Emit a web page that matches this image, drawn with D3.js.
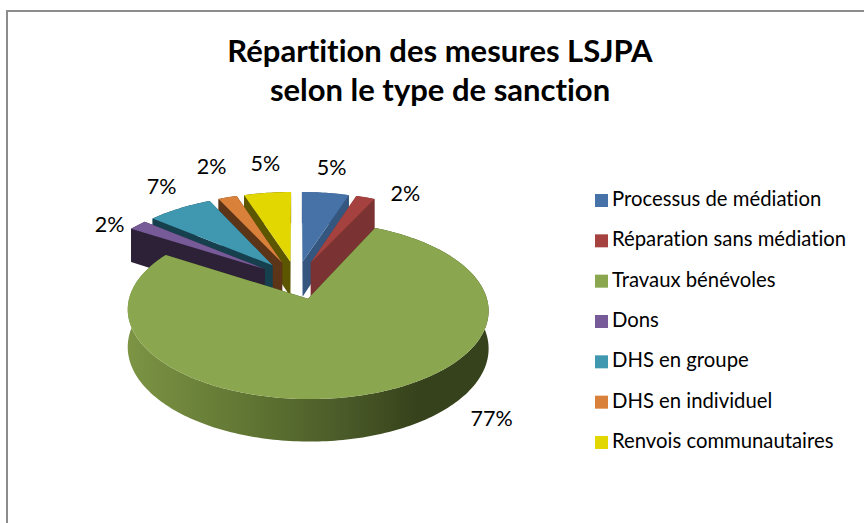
<!DOCTYPE html>
<html><head><meta charset="utf-8">
<script src="https://cdnjs.cloudflare.com/ajax/libs/d3/7.8.5/d3.min.js"></script>
<style>html,body{margin:0;padding:0;background:#fff}svg{display:block}text{font-family:Lato,"Open Sans",sans-serif;fill:#000;font-variant-ligatures:none}</style>
</head><body><svg id="c" width="864" height="523"></svg>
<script>
const categories=["Processus de médiation","Réparation sans médiation","Travaux bénévoles","Dons","DHS en groupe","DHS en individuel","Renvois communautaires"];
const values=[5,2,77,2,7,2,5];
const labels=["5%","2%","77%","2%","7%","2%","5%"];
const titleLines=["Répartition des mesures LSJPA","selon le type de sanction"];
const topColors=["#4672a8","#a5423f","#8aa64e","#775a98","#3f98af","#d9813a","#e2d700"];
const wallColors=["#34567f","#7a3232","url(#gw)","#2d2138","#17404e","#5c3418","#5c5600"];
const legendColors=topColors;
// label nudges relative to the slice's outer-arc midpoint
const labelNudge=[[6,-18],[40,4],[125,31],[-28,7],[-18,-14],[-16,-23],[-2,-22]];

const svg=d3.select("#c");
const W=864,H=523;
// Projection parameters
const cx=296.5,cy=280,R=174,explode=40,tilt=.475,persp=.125,depth=36,span=Math.PI*2;
const defs=svg.append("defs");
const g=defs.append("linearGradient").attr("id","gw").attr("gradientUnits","userSpaceOnUse")
 .attr("x1",128).attr("x2",490).attr("y1",0).attr("y2",0);
[[0,"#7c9444"],[.35,"#5f7432"],[.6,"#4a5a28"],[.8,"#36421b"],[1,"#36421b"]].forEach(s=>g.append("stop").attr("offset",s[0]).attr("stop-color",s[1]));

svg.append("path").attr("d",`M7 ${H} V11 H${W}`).attr("fill","none").attr("stroke","#8c8c8c").attr("stroke-width",2);

const proj=(wx,wy,z)=>{const Y=wy/R,f=1/(1-persp*Y);return [cx+wx*f,cy+wy*tilt*f+z*depth*f];};
const pie=d3.pie().sort(null).startAngle(0).endAngle(span)(values);
const line=d3.line();
const slices=pie.map((p,i)=>{
  const mid=(p.startAngle+p.endAngle)/2, ox=explode*Math.sin(mid), oy=-explode*Math.cos(mid);
  const pt=(a,z,r=R)=>proj(ox+r*Math.sin(a),oy-r*Math.cos(a),z);
  const n=Math.max(4,Math.ceil((p.endAngle-p.startAngle)/.02));
  const angs=d3.range(n+1).map(k=>p.startAngle+(p.endAngle-p.startAngle)*k/n);
  return {i,mid,pt,angs,ox,oy,p};
}).sort((a,b)=>Math.cos(b.mid)-Math.cos(a.mid));

const pg=svg.append("g");
slices.forEach(s=>{
  const ap=z=>proj(s.ox,s.oy,z);
  const a0=s.p.startAngle,a1=s.p.endAngle;
  // radial walls
  [a0,a1].forEach(a=>{
    pg.append("path").attr("d",line([ap(0),s.pt(a,0),s.pt(a,1),ap(1)])+"Z").attr("fill",s.i===2?"#36421b":wallColors[s.i]);
  });
  // outer wall
  const outer=s.angs.map(a=>s.pt(a,0)).concat(s.angs.slice().reverse().map(a=>s.pt(a,1)));
  pg.append("path").attr("d",line(outer)+"Z").attr("fill",wallColors[s.i]);
  // top
  pg.append("path").attr("d",line([ap(0)].concat(s.angs.map(a=>s.pt(a,0))))+"Z").attr("fill",topColors[s.i]);
});
// labels
pie.forEach((p,i)=>{
  const mid=(p.startAngle+p.endAngle)/2, ox=explode*Math.sin(mid), oy=-explode*Math.cos(mid);
  const q=proj(ox+R*Math.sin(mid),oy-R*Math.cos(mid),0);
  svg.append("text").attr("x",q[0]+labelNudge[i][0]).attr("y",q[1]+labelNudge[i][1]).attr("text-anchor","middle").attr("font-size",21.5).text(labels[i]);
});
// title
const t=svg.append("text").attr("text-anchor","middle").attr("font-weight",700).attr("font-size",31);
titleLines.forEach((l,i)=>t.append("tspan").attr("x",440).attr("y",62+i*39).text(l));
// legend
const ly=d3.scalePoint().domain(categories).range([206,448]);
categories.forEach((c,i)=>{
  svg.append("rect").attr("x",595).attr("y",ly(c)-12).attr("width",13).attr("height",13).attr("fill",legendColors[i]);
  svg.append("text").attr("x",612).attr("y",ly(c)).attr("font-size",20.3).text(c);
});
</script></body></html>
